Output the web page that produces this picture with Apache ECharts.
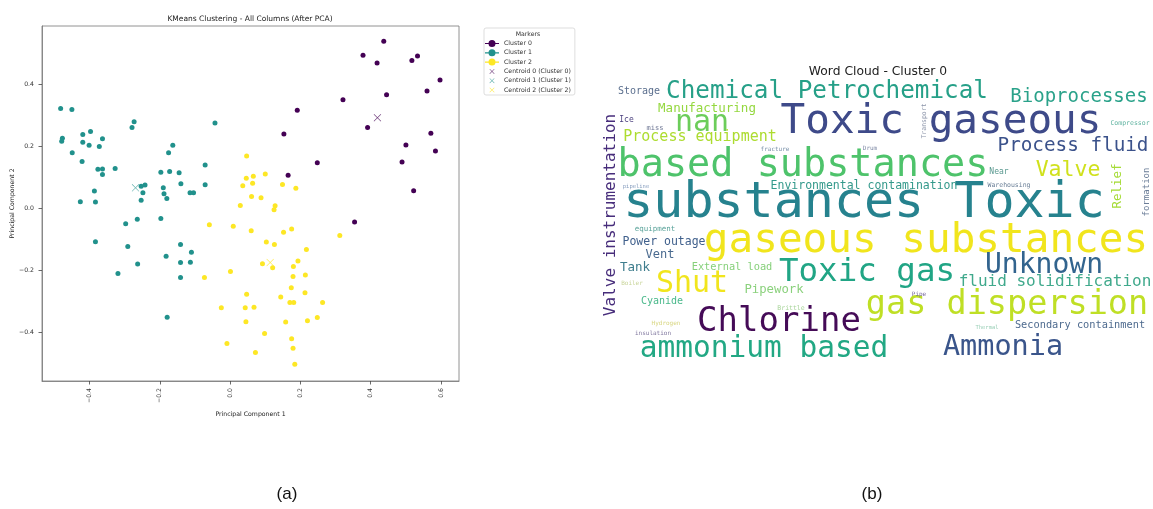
<!DOCTYPE html>
<html>
<head>
<meta charset="utf-8">
<script src="https://cdn.jsdelivr.net/npm/echarts@6/dist/echarts.min.js"></script>
<style>
  html, body { margin: 0; padding: 0; background: #fff; }
  #main { width: 1153px; height: 509px; }
</style>
</head>
<body>
<div id="main"></div>
<script>
// PCA scatter
var cluster0 = [[0.437,0.538],[0.378,0.493],[0.418,0.468],[0.517,0.476],[0.533,0.490],[0.597,0.413],[0.560,0.377],[0.445,0.365],[0.321,0.349],[0.191,0.315],[0.391,0.260],[0.153,0.239],[0.571,0.241],[0.500,0.203],[0.584,0.184],[0.489,0.148],[0.248,0.146],[0.165,0.106],[0.522,0.056],[0.354,-0.045]];
var cluster1 = [[-0.482,0.321],[-0.450,0.318],[-0.477,0.225],[-0.479,0.215],[-0.449,0.178],[-0.419,0.237],[-0.419,0.212],[-0.397,0.247],[-0.401,0.202],[-0.372,0.198],[-0.363,0.223],[-0.421,0.150],[-0.376,0.125],[-0.363,0.126],[-0.363,0.108],[-0.327,0.127],[-0.386,0.055],[-0.279,0.260],[-0.273,0.278],[-0.197,0.115],[-0.175,0.178],[-0.163,0.202],[-0.172,0.118],[-0.145,0.114],[-0.140,0.078],[-0.190,0.065],[-0.188,0.046],[-0.180,0.031],[-0.114,0.049],[-0.104,0.049],[-0.071,0.139],[-0.071,0.075],[-0.043,0.274],[-0.253,0.070],[-0.242,0.074],[-0.248,0.049],[-0.253,0.025],[-0.426,0.020],[-0.383,0.019],[-0.297,-0.051],[-0.264,-0.036],[-0.197,-0.034],[-0.383,-0.109],[-0.291,-0.124],[-0.263,-0.181],[-0.319,-0.211],[-0.141,-0.118],[-0.182,-0.156],[-0.110,-0.143],[-0.141,-0.176],[-0.113,-0.175],[-0.141,-0.224],[-0.179,-0.352]];
var cluster2 = [[0.047,0.168],[0.046,0.096],[0.036,0.072],[0.066,0.102],[0.100,0.110],[0.064,0.080],[0.149,0.076],[0.187,0.064],[0.061,0.037],[0.088,0.033],[0.029,0.008],[0.128,0.007],[0.125,-0.006],[-0.059,-0.054],[0.009,-0.059],[0.060,-0.073],[0.152,-0.078],[0.175,-0.068],[0.103,-0.110],[0.126,-0.118],[0.217,-0.134],[0.312,-0.089],[0.092,-0.180],[0.121,-0.193],[0.193,-0.171],[0.180,-0.189],[0.179,-0.221],[0.214,-0.216],[0.001,-0.205],[-0.073,-0.224],[0.174,-0.257],[0.213,-0.273],[0.047,-0.278],[0.144,-0.287],[0.170,-0.305],[0.181,-0.305],[0.263,-0.305],[-0.025,-0.322],[0.043,-0.322],[0.068,-0.320],[0.045,-0.367],[0.158,-0.368],[0.220,-0.364],[0.248,-0.353],[0.098,-0.405],[-0.009,-0.437],[0.175,-0.422],[0.179,-0.452],[0.072,-0.466],[0.184,-0.504]];
var centroids = [[0.419,0.291],[-0.269,0.065],[0.114,-0.176]];
var clusterNames = ['Cluster 0','Cluster 1','Cluster 2'];
var centroidNames = ['Centroid 0 (Cluster 0)','Centroid 1 (Cluster 1)','Centroid 2 (Cluster 2)'];
var xTicks = [-0.4,-0.2,0.0,0.2,0.4,0.6];
var yTicks = [-0.4,-0.2,0.0,0.2,0.4];

// word cloud words (cluster 0)
var words = ['substances Toxic','Toxic gaseous','gaseous substances','based substances','Chemical Petrochemical','nan','Bioprocesses','Process fluid','Valve','Toxic gas','Unknown','Shut','gas dispersion','Chlorine','ammonium based','Ammonia','Valve instrumentation','fluid solidification','Environmental contamination','Manufacturing','Process equipment','Storage','Power outage','Tank','Vent','External load','Pipework','Cyanide','Secondary containment','Relief','formation','Near','Warehousing','equipment','Ice','miss','fracture','Drum','Transport','Compressor','pipeline','Boiler','Pipe','Brittle','Hydrogen','insulation','Thermal'];

// layout of the cloud: [x, y, fontSize, rotate]
var cloudLayout = [
  [864,204,50,0],[941,122,41,0],[926,241,41,0],[803,166,38.5,0],[827,92,24.3,0],
  [702,123,30,0],[1079,97,19,0],[1073,145.5,19.3,0],[1068,170,21.5,0],[867,273,32.5,0],
  [1044,266,28,0],[692,284,30,0],[1007,305,33.5,0],[779,322,34,0],[764,349,29.5,0],
  [1003,348,28.5,0],[611,215,16,90],[1055,282,16,0],[864,186,11.5,0],[707,109,12.5,0],
  [700,137,15,0],[639,91,10,0],[664,242,11.5,0],[635,267.5,12.5,0],[660,255,12,0],
  [732,267.5,10.3,0],[774,290,12.3,0],[662,301.5,10,0],[1080,325,10.3,0],[1118,186,12.5,90],
  [1146.5,192,9,90],[999,172,8,0],[1009,185,6.5,0],[655,229,7.5,0],[626.5,120,8,0],
  [655,128,7,0],[775,149,6,0],[870,148,6,0],[924,121,6.5,90],[1130,123,6.5,0],
  [636,187,5.5,0],[632,283,6,0],[919,294,6,0],[791,308,6.5,0],[666,323,6,0],
  [653,333,6,0],[987,328,5.5,0]
];
var cloudColors = ['#26828e','#3e4a89','#f1e51d','#4ec36b','#26a088','#6ccd5a','#2aa28a','#3b528b','#d0e11c','#21a585',
  '#32648e','#f1e51d','#bfdf25','#450b57','#22a884','#3a558b','#472d7b','#40a98c','#33998b','#95d840',
  '#addc30','#5b6f8e','#40608c','#3e7d8d','#4a6a8f','#86d07a','#8bd17d','#49b88a','#4d6a8e','#a5db36',
  '#6b7d98','#58988f','#6c8098','#5aa39a','#4a3f7e','#6a7391','#7890a8','#7f8aa6','#8a93a8','#5fb3a0',
  '#8aa0c0','#c9d59a','#7b6ca0','#a8d59a','#d8d680','#8279a0','#9cd0b8'];

var colors = ['#440154','#21918c','#fde725'];
var font = 'DejaVu Sans';
var crossPath = 'path://M0,0.6L0.6,0L10,9.4L9.4,10Z M9.4,0L10,0.6L0.6,10L0,9.4Z';
var dotIcon = 'path://M0,4.4L14,4.4L14,5.6L0,5.6Z M3.5,5A3.5,3.5,0,1,1,10.5,5A3.5,3.5,0,1,1,3.5,5Z';
var crossIcon = 'path://M0,1.5M14,8.5M4.5,2.9L4.9,2.5L9.5,7.1L9.1,7.5Z M9.1,2.5L9.5,2.9L4.9,7.5L4.5,7.1Z';

function tickFmt(v) {
  return v.toFixed(1).replace('-', '\u2212');
}

var series = [];
var clusters = [cluster0, cluster1, cluster2];
for (var i = 0; i < 3; i++) {
  series.push({
    name: clusterNames[i],
    type: 'scatter',
    xAxisIndex: 0, yAxisIndex: 0,
    symbol: 'circle',
    symbolSize: 5,
    itemStyle: { color: colors[i], opacity: 1 },
    data: clusters[i],
    z: 2
  });
}
for (var j = 0; j < 3; j++) {
  series.push({
    name: centroidNames[j],
    type: 'scatter',
    xAxisIndex: 0, yAxisIndex: 0,
    symbol: crossPath,
    symbolSize: 7.5,
    itemStyle: { color: colors[j], opacity: 0.75 },
    data: [centroids[j]],
    z: 3
  });
}

// word cloud as label-only scatter on a hidden grid
var cloudData = [];
for (var k = 0; k < words.length; k++) {
  var l = cloudLayout[k];
  cloudData.push({
    value: [l[0], l[1]],
    label: {
      show: true,
      formatter: words[k],
      position: 'inside',
      rotate: l[3],
      fontSize: l[2],
      color: cloudColors[k],
      fontFamily: 'DejaVu Sans Mono'
    }
  });
}
series.push({
  name: 'cloud',
  type: 'scatter',
  xAxisIndex: 1, yAxisIndex: 1,
  symbolSize: 0.1,
  itemStyle: { color: 'transparent', opacity: 1 },
  silent: true,
  data: cloudData,
  z: 1
});

var legendData = [];
for (var m = 0; m < 3; m++) {
  legendData.push({ name: clusterNames[m], icon: dotIcon });
}
for (var n = 0; n < 3; n++) {
  legendData.push({ name: centroidNames[n], icon: crossIcon });
}

var myChart = echarts.init(document.getElementById('main'));
myChart.setOption({
  animation: false,
  backgroundColor: '#fff',
  grid: [
    { left: 42, top: 26, width: 417, height: 355, show: true, borderColor: '#777', borderWidth: 0.8, backgroundColor: 'transparent' },
    { left: 600, top: 78, width: 553, height: 300, show: false }
  ],
  xAxis: [
    {
      gridIndex: 0, type: 'value', min: -0.535, max: 0.651,
      name: 'Principal Component 1', nameLocation: 'middle', nameGap: 24,
      nameTextStyle: { fontSize: 6.2, color: '#222', fontFamily: font },
      axisLine: { show: true, onZero: false, lineStyle: { color: '#777', width: 0.8 } },
      axisTick: { show: true, length: 3.5, customValues: xTicks, lineStyle: { color: '#444', width: 0.8 } },
      axisLabel: { rotate: 90, margin: 7, fontSize: 6.2, color: '#333', fontFamily: font, customValues: xTicks, formatter: tickFmt },
      splitLine: { show: false }
    },
    { gridIndex: 1, type: 'value', min: 600, max: 1153, show: false }
  ],
  yAxis: [
    {
      gridIndex: 0, type: 'value', min: -0.558, max: 0.587,
      name: 'Principal Component 2', nameLocation: 'middle', nameGap: 27,
      nameTextStyle: { fontSize: 6.2, color: '#222', fontFamily: font },
      axisLine: { show: true, onZero: false, lineStyle: { color: '#777', width: 0.8 } },
      axisTick: { show: true, length: 3.5, customValues: yTicks, lineStyle: { color: '#444', width: 0.8 } },
      axisLabel: { margin: 8, fontSize: 6.2, color: '#333', fontFamily: font, customValues: yTicks, formatter: tickFmt },
      splitLine: { show: false }
    },
    { gridIndex: 1, type: 'value', min: 78, max: 378, inverse: true, show: false }
  ],
  legend: {
    orient: 'vertical',
    left: 484, top: 28,
    padding: [12, 4, 1.5, 1],
    borderColor: '#d4d4d4', borderWidth: 0.8, borderRadius: 2,
    itemWidth: 14, itemHeight: 7, itemGap: 2.3,
    textStyle: { fontSize: 6.2, lineHeight: 7, color: '#333', fontFamily: font },
    selectedMode: false,
    data: legendData
  },
  graphic: [
    { type: 'text', x: 250, y: 19, style: { text: 'KMeans Clustering - All Columns (After PCA)', font: '7.5px "DejaVu Sans"', fill: '#222', textAlign: 'center', textVerticalAlign: 'middle' } },
    { type: 'text', x: 528, y: 34, style: { text: 'Markers', font: '6.2px "DejaVu Sans"', fill: '#333', textAlign: 'center', textVerticalAlign: 'middle' } },
    { type: 'text', x: 878, y: 72, style: { text: 'Word Cloud - Cluster 0', font: '12.3px "DejaVu Sans"', fill: '#222', textAlign: 'center', textVerticalAlign: 'middle' } },
    { type: 'text', x: 287, y: 494, style: { text: '(a)', font: '17px "Liberation Sans"', fill: '#111', textAlign: 'center', textVerticalAlign: 'middle' } },
    { type: 'text', x: 872, y: 494, style: { text: '(b)', font: '17px "Liberation Sans"', fill: '#111', textAlign: 'center', textVerticalAlign: 'middle' } }
  ],
  series: series
});
</script>
</body>
</html>
